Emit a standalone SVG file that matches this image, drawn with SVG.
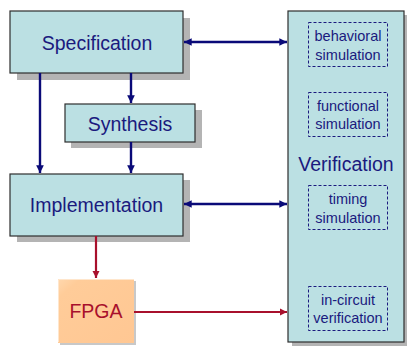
<svg xmlns="http://www.w3.org/2000/svg" width="407" height="346" viewBox="0 0 407 346">
  <defs>
    <marker id="ahBlue" viewBox="0 0 10 10" refX="10" refY="5" markerWidth="3.2" markerHeight="3.2" orient="auto-start-reverse" markerUnits="strokeWidth">
      <path d="M0,0 L10,5 L0,10 z" fill="#0a0a78"/>
    </marker>
    <marker id="ahRed" viewBox="0 0 10 10" refX="10" refY="5" markerWidth="3.2" markerHeight="3.2" orient="auto-start-reverse" markerUnits="strokeWidth">
      <path d="M0,0 L10,5 L0,10 z" fill="#a8102c"/>
    </marker>
    <linearGradient id="fpgaFill" x1="0" y1="0" x2="1" y2="1">
      <stop offset="0" stop-color="#ffd8ae"/>
      <stop offset="0.15" stop-color="#ffcc99"/>
      <stop offset="1" stop-color="#ffc793"/>
    </linearGradient>
  </defs>
  <style>
    .shadow { fill: #b4b4b4; }
    .box { fill: #bbe0e3; stroke: #2e2e2e; stroke-width: 1.2; }
    .big { font-family: "Liberation Sans", Arial, sans-serif; font-size: 19.5px; fill: #1a1a7e; text-anchor: middle; }
    .small { font-family: "Liberation Sans", Arial, sans-serif; font-size: 14.5px; fill: #1a1a7e; text-anchor: middle; }
    .dash { fill: none; stroke: #1a1a7e; stroke-width: 1; stroke-dasharray: 3 2; }
    .blue { stroke: #0a0a78; stroke-width: 2.4; fill: none; }
    .red { stroke: #a8102c; stroke-width: 2.2; fill: none; }
  </style>

  <rect width="407" height="346" fill="#ffffff"/>

  <!-- verification column with its four checks -->
  <g id="verification">
    <rect class="shadow" x="292" y="15" width="115" height="331"/>
    <rect class="box" x="288" y="11" width="116" height="331"/>
    <text class="big" x="346" y="171">Verification</text>
    <g id="behavioral">
      <rect class="dash" x="308.5" y="22.5" width="79" height="44"/>
      <text class="small" x="348" y="41">behavioral</text>
      <text class="small" x="348" y="60">simulation</text>
    </g>
    <g id="functional">
      <rect class="dash" x="308.5" y="92.5" width="79" height="44"/>
      <text class="small" x="348" y="111">functional</text>
      <text class="small" x="348" y="129">simulation</text>
    </g>
    <g id="timing">
      <rect class="dash" x="308.5" y="185.5" width="79" height="44"/>
      <text class="small" x="348" y="204">timing</text>
      <text class="small" x="348" y="223">simulation</text>
    </g>
    <g id="incircuit">
      <rect class="dash" x="308.5" y="286.5" width="79" height="44"/>
      <text class="small" x="348" y="305">in-circuit</text>
      <text class="small" x="348" y="323">verification</text>
    </g>
  </g>

  <g id="specification">
    <rect class="shadow" x="17" y="18" width="173" height="62"/>
    <rect class="box" x="10" y="11" width="173" height="62"/>
    <text class="big" x="97" y="50">Specification</text>
  </g>

  <g id="synthesis">
    <rect class="shadow" x="71" y="110" width="131" height="38"/>
    <rect class="box" x="65" y="104" width="130" height="38"/>
    <text class="big" x="130" y="131">Synthesis</text>
  </g>

  <g id="implementation">
    <rect class="shadow" x="17" y="180" width="173" height="62"/>
    <rect class="box" x="10" y="174" width="173" height="62"/>
    <text class="big" x="96.5" y="212">Implementation</text>
  </g>

  <g id="fpga">
    <rect x="60" y="281" width="76" height="64" fill="#c8c8c8"/>
    <rect x="58" y="279" width="76" height="64" fill="url(#fpgaFill)"/>
    <path d="M58.5,342 V279.5 H134" fill="none" stroke="#ffe6cc" stroke-width="1"/>
    <text x="96" y="318" font-family="Liberation Sans, Arial, sans-serif" font-size="19.5" fill="#a8102c" text-anchor="middle">FPGA</text>
  </g>

  <!-- connectors -->
  <g id="connectors">
    <line class="blue" x1="184" y1="42" x2="287" y2="42" marker-start="url(#ahBlue)" marker-end="url(#ahBlue)"/>
    <line class="blue" x1="184" y1="204" x2="287" y2="204" marker-start="url(#ahBlue)" marker-end="url(#ahBlue)"/>
    <line class="blue" x1="40" y1="73" x2="40" y2="173" marker-end="url(#ahBlue)"/>
    <line class="blue" x1="131" y1="73" x2="131" y2="103" marker-end="url(#ahBlue)"/>
    <line class="blue" x1="131" y1="142" x2="131" y2="173" marker-end="url(#ahBlue)"/>
    <line class="red" x1="96" y1="236" x2="96" y2="278" marker-end="url(#ahRed)"/>
    <line class="red" x1="134" y1="312" x2="287" y2="312" marker-end="url(#ahRed)"/>
  </g>
</svg>
